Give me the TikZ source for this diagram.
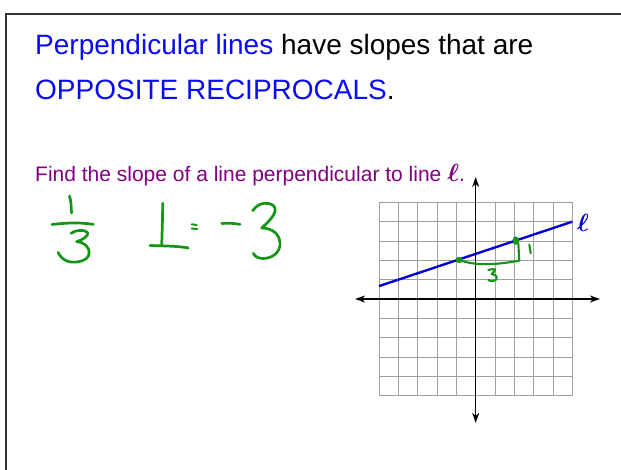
\documentclass[tikz,border=0pt]{standalone}
\usepackage{fontspec}
\setmainfont{Liberation Sans}
\usetikzlibrary{arrows.meta}
\definecolor{tblue}{RGB}{10,10,245}
\definecolor{tpurple}{RGB}{128,0,128}
\definecolor{hgreen}{RGB}{20,150,20}
\definecolor{lblue}{RGB}{0,0,215}
\begin{document}
\begin{tikzpicture}[x=1pt,y=-1pt,
  hand/.style={hgreen, line width=2.7pt, line cap=round, line join=round},
  handsmall/.style={hgreen, line width=2.1pt, line cap=round, line join=round},
  gridline/.style={gray!75, line width=0.8pt},
  axisline/.style={black, line width=1.4pt, {Stealth[length=10pt,width=7pt,inset=3pt]}-{Stealth[length=10pt,width=7pt,inset=3pt]}},
  lline/.style={lblue, line width=2.4pt},
  txt/.style={inner sep=0pt, anchor=base west}]
\useasboundingbox (0,0) rectangle (621,470);
\clip (0,0) rectangle (621,470);
\draw[line width=2pt, black!80] (5.5,14.5) rectangle (640,490);

% title
\node[txt, font=\fontsize{28}{28}\selectfont] (t1) at (35,55) {\textcolor{tblue}{Perpendicular lines} have slopes that are};
\node[txt, font=\fontsize{28}{28}\selectfont] (t2) at (35,99.5) {\textcolor{tblue}{OPPOSITE RECIPROCALS}.};
\node[txt, font=\fontsize{21}{21}\selectfont, text=tpurple] (q) at (35,181.5) {Find the slope of a line perpendicular to line {\fontsize{24}{24}\selectfont\boldmath$\ell$}.};

% graph
\begin{scope}[shift={(475.7,299)}, x=19.33pt, y=19.33pt]
  \draw[gridline, step=1] (-5,-5) grid (5,5);
  \coordinate (xl) at (-6.24,0); \coordinate (xr) at (6.43,0);
  \coordinate (yb) at (0,-6.41); \coordinate (yt) at (0,6.31);
  \draw[axisline] (xl) -- (xr);
  \draw[axisline] (yb) -- (yt);
  \coordinate (la) at (-5,2/3); \coordinate (lb) at (5,4);
  \draw[lline] (la) -- (lb);
  \node[text=lblue, font=\fontsize{25}{25}\selectfont\boldmath, inner sep=0pt] (ell) at (5.55,3.95) {$\ell$};
  \coordinate (p1) at (-0.86,2.02);
  \coordinate (p2) at (2.07,3.02);
\end{scope}

% green work on graph
\fill[hgreen] (p1) circle (3.2pt);
\fill[hgreen] (p2) ellipse (3.2pt and 4.2pt);
\draw[handsmall] (p1) .. controls (475,266) and (495,265) .. (519.3,260.7) -- (518.3,243);
\draw[handsmall] (529.3,244.5) -- (530.7,253.3);
\draw[handsmall] (488.3,270) .. controls (492,269) and (496,268.5) .. (495,270.5) .. controls (494,272.5) .. (491.7,274) .. controls (496,275) and (498,277) .. (496.7,279) .. controls (495,281.5) and (490,281.5) .. (488.3,280);

% handwriting: 1/3
\draw[hand] (69.5,196) .. controls (71,202) .. (71.5,213);
\draw[hand] (52,224.5) .. controls (70,222.5) and (80,222.5) .. (93.3,224.3);
\draw[hand] (71,233.3) .. controls (75,230) and (85,229) .. (87.7,232.7) .. controls (89,236) and (82,240) .. (76.7,241.7) .. controls (84,242) and (90,247) .. (89,254) .. controls (88,261) and (76,263.5) .. (68.3,261.5) .. controls (63,260) and (60,256) .. (58,252.5);

% perpendicular symbol = -3
\draw[hand] (162.7,203.3) .. controls (162.5,220) .. (161.7,245);
\draw[hand] (150,245.5) .. controls (165,246) and (178,246) .. (188.3,248);
\draw[hand, line width=2pt] (191.7,224.3) -- (196.7,225);
\draw[hand, line width=2pt] (191.7,228.6) -- (197.3,228.9);
\draw[hand] (221.7,223.5) .. controls (230,223) .. (240,224.3);
\draw[hand] (252.7,210.7) .. controls (256,206) and (260,203.5) .. (265,203.3) .. controls (272,203) and (276,206) .. (275,211) .. controls (274,217) and (266,224) .. (261.7,228) .. controls (272,228) and (280,234) .. (280,244) .. controls (280,252) and (273,258) .. (264,258.5) .. controls (259,258.7) and (255,257) .. (253.3,253.3);
\end{tikzpicture}
\end{document}
